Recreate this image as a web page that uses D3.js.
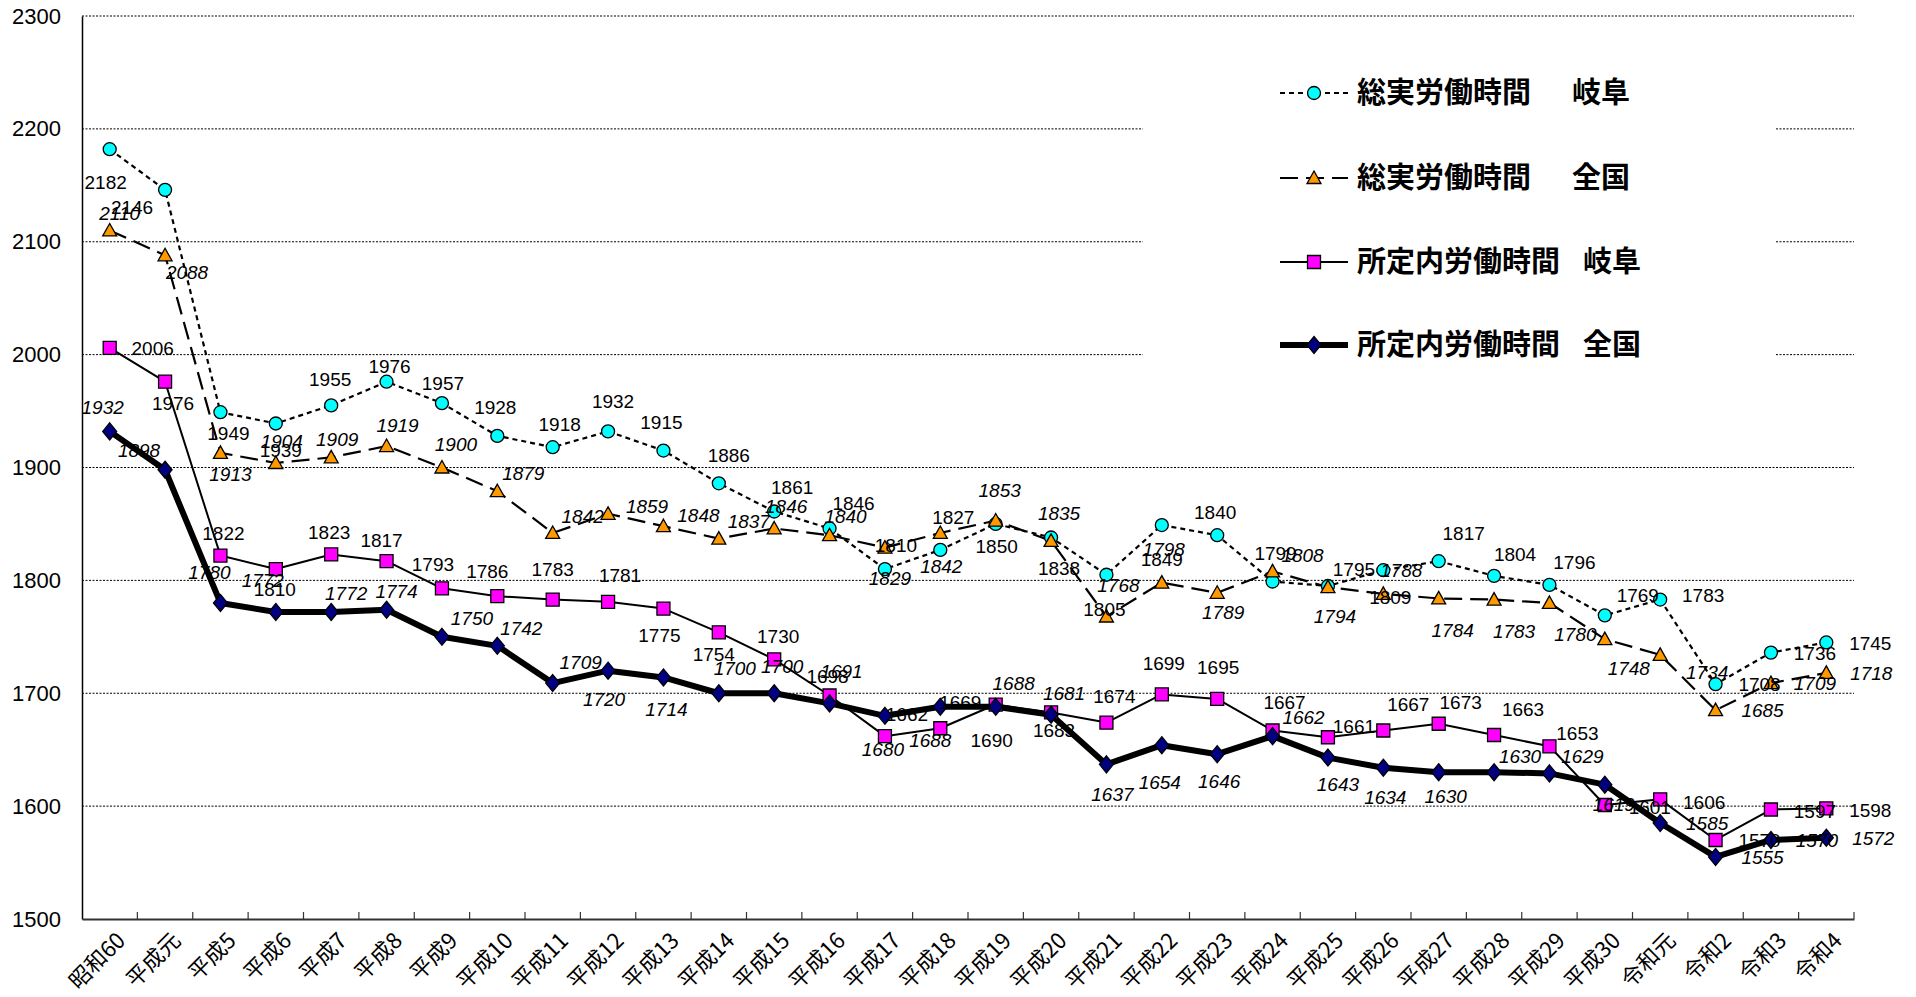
<!DOCTYPE html>
<html>
<head>
<meta charset="utf-8">
<script src="https://cdn.jsdelivr.net/npm/d3@7"></script>
<style>
  body { margin: 0; background: #fff; }
  svg { display: block; }
</style>
</head>
<body>
<svg width="1916" height="997"></svg>
<script>
const categories = ["昭和60", "平成元", "平成5", "平成6", "平成7", "平成8", "平成9", "平成10",
  "平成11", "平成12", "平成13", "平成14", "平成15", "平成16", "平成17", "平成18", "平成19",
  "平成20", "平成21", "平成22", "平成23", "平成24", "平成25", "平成26", "平成27", "平成28",
  "平成29", "平成30", "令和元", "令和2", "令和3", "令和4"]

const gifuTotal = [2182, 2146, 1949, 1939, 1955, 1976, 1957, 1928, 1918, 1932, 1915, 1886,
  1861, 1846, 1810, 1827, 1850, 1838, 1805, 1849, 1840, 1799, 1795, 1809, 1817, 1804, 1796,
  1769, 1783, 1708, 1736, 1745]
const zenkokuTotal = [2110, 2088, 1913, 1904, 1909, 1919, 1900, 1879, 1842, 1859, 1848, 1837,
  1846, 1840, 1829, 1842, 1853, 1835, 1768, 1798, 1789, 1808, 1794, 1788, 1784, 1783, 1780,
  1748, 1734, 1685, 1709, 1718]
const gifuScheduled = [2006, 1976, 1822, 1810, 1823, 1817, 1793, 1786, 1783, 1781, 1775, 1754,
  1730, 1698, 1662, 1669, 1690, 1683, 1674, 1699, 1695, 1667, 1661, 1667, 1673, 1663, 1653,
  1601, 1606, 1570, 1597, 1598]
const zenkokuScheduled = [1932, 1898, 1780, 1772, 1772, 1774, 1750, 1742, 1709, 1720, 1714, 1700,
  1700, 1691, 1680, 1688, 1688, 1681, 1637, 1654, 1646, 1662, 1643, 1634, 1630, 1630, 1629,
  1619, 1585, 1555, 1570, 1572]

const yTicks = [1500, 1600, 1700, 1800, 1900, 2000, 2100, 2200, 2300]

// where each data label sits relative to its marker (px), as in the original sheet
const gifuTotalShift = [[-4,33],[-33,17],[8,21],[5,27],[-1,-26],[3,-16],[1,-20],[-2,-29],[7,-23],[5,-30],
  [-2,-28],[10,-28],[18,-24],[24,-25],[11,-24],[13,-33],[1,22],[8,31],[-2,34],[0,34],[-2,-23],[3,-28],
  [26,-17],[7,27],[25,-28],[21,-22],[25,-23],[33,-20],[43,-4],[44,0],[44,1],[44,1]]
const zenkokuTotalShift = [[10,-17],[22,17],[10,21],[6,-22],[6,-18],[11,-21],[14,-23],[26,-18],[30,-17],
  [39,-8],[35,-11],[30,-17],[12,-22],[16,-19],[5,31],[1,33],[4,-30],[8,-28],[12,-31],[2,-33],[6,19],
  [30,-16],[7,29],[18,-24],[14,32],[20,32],[26,31],[24,29],[47,17],[47,0],[44,0],[45,0]]
const gifuScheduledShift = [[43,0],[8,21],[3,-22],[-1,20],[-2,-22],[-5,-21],[-9,-24],[-10,-25],[0,-30],
  [12,-27],[-4,27],[-5,22],[4,-23],[-2,-19],[22,-22],[20,-26],[-4,36],[3,18],[8,-26],[2,-31],[1,-32],
  [12,-28],[26,-11],[25,-26],[22,-22],[29,-26],[28,-13],[45,2],[44,3],[44,0],[44,2],[44,2]]
const zenkokuScheduledShift = [[-7,-24],[-26,-20],[-11,-31],[-13,-32],[15,-19],[10,-19],[30,-19],[24,-18],
  [28,-21],[-4,28],[3,32],[16,-25],[8,-27],[12,-32],[-2,33],[-10,33],[18,-24],[13,-22],[6,30],[-2,37],
  [2,27],[31,-19],[10,27],[2,29],[7,24],[26,-16],[33,-17],[9,19],[47,0],[47,0],[46,0],[47,0]]

const [LEFT, RIGHT, TOP, BOTTOM] = [82, 1854, 16, 919]
const NUM_FONT = "'Liberation Sans', Arial, sans-serif"
const JP_FONT = "'Noto Sans CJK JP', sans-serif"

const markerPaths = {
  circle: "M6.5,0A6.5,6.5 0 1,1 -6.5,0A6.5,6.5 0 1,1 6.5,0Z",
  triangle: "M0,-7L7,5.5L-7,5.5Z",
  square: "M-6.5,-6.5H6.5V6.5H-6.5Z",
  diamond: "M0,-8.5L7,0L0,8.5L-7,0Z",
}

const series = [
  { name: "総実労働時間", area: "岐阜", areaX: 1572, values: gifuTotal, shift: gifuTotalShift,
    marker: "circle", fill: "#00ffff", width: 2.2, dash: "5,4", italic: false },
  { name: "総実労働時間", area: "全国", areaX: 1572, values: zenkokuTotal, shift: zenkokuTotalShift,
    marker: "triangle", fill: "#ff9900", width: 2.2, dash: "18,8", italic: true },
  { name: "所定内労働時間", area: "岐阜", areaX: 1583, values: gifuScheduled, shift: gifuScheduledShift,
    marker: "square", fill: "#ff00ff", width: 2, dash: null, italic: false },
  { name: "所定内労働時間", area: "全国", areaX: 1583, values: zenkokuScheduled, shift: zenkokuScheduledShift,
    marker: "diamond", fill: "#000080", width: 6, dash: null, italic: true },
]

const svg = d3.select("svg")

const x = d3.scaleBand().domain(categories).range([LEFT, RIGHT])
const y = d3.scaleLinear().domain([1500, 2300]).range([BOTTOM, TOP])
const cx = (c) => x(c) + x.bandwidth() / 2

// grid
svg.append("g")
  .selectAll("line")
  .data(yTicks.filter((t) => t > 1500))
  .enter()
  .append("line")
  .attr("x1", LEFT)
  .attr("x2", RIGHT)
  .attr("y1", (t) => y(t))
  .attr("y2", (t) => y(t))
  .attr("stroke", "#000")
  .attr("stroke-width", 1)
  .attr("stroke-dasharray", "2,1.5")

// legend background hides the grid behind it
svg.append("rect")
  .attr("x", 1143).attr("y", 32)
  .attr("width", 633).attr("height", 380)
  .attr("fill", "#fff")

// y axis
const yAxis = svg.append("g")
  .attr("transform", `translate(${LEFT},0)`)
  .call(d3.axisLeft(y).tickValues(yTicks).tickFormat(d3.format("d")).tickSize(0).tickPadding(21))
yAxis.select(".domain").attr("stroke", "#000").attr("stroke-width", 1.5)
yAxis.selectAll("text")
  .attr("font-family", NUM_FONT)
  .attr("font-size", 22)
  .attr("fill", "#000")

// x axis
const xAxis = svg.append("g")
  .attr("transform", `translate(0,${BOTTOM})`)
  .call(d3.axisBottom(x).tickSize(0).tickFormat(""))
xAxis.select(".domain").attr("stroke", "#333").attr("stroke-width", 2)

svg.append("g")
  .selectAll("line")
  .data(categories.slice(1).map((c) => x(c)).concat([RIGHT]))
  .enter()
  .append("line")
  .attr("x1", (d) => d)
  .attr("x2", (d) => d)
  .attr("y1", BOTTOM)
  .attr("y2", BOTTOM - 7)
  .attr("stroke", "#333")
  .attr("stroke-width", 1.2)

svg.append("g")
  .selectAll("text")
  .data(categories)
  .enter()
  .append("text")
  .attr("transform", (c) => `translate(${cx(c) + 17},${BOTTOM + 23}) rotate(-45)`)
  .attr("text-anchor", "end")
  .attr("font-family", JP_FONT)
  .attr("font-size", 22)
  .attr("fill", "#000")
  .text((c) => c)

// lines and markers
const line = d3.line().x((d) => cx(d.c)).y((d) => y(d.v))

series.forEach((s) => {
  const pts = categories.map((c, i) => ({ c, v: s.values[i] }))
  svg.append("path")
    .datum(pts)
    .attr("d", line)
    .attr("fill", "none")
    .attr("stroke", "#000")
    .attr("stroke-width", s.width)
    .attr("stroke-dasharray", s.dash)
    .attr("stroke-linejoin", "round")
  s.pts = pts
})

series.forEach((s) => {
  svg.append("g")
    .selectAll("path")
    .data(s.pts)
    .enter()
    .append("path")
    .attr("transform", (d) => `translate(${cx(d.c)},${y(d.v)})`)
    .attr("d", markerPaths[s.marker])
    .attr("fill", s.fill)
    .attr("stroke", "#000")
    .attr("stroke-width", 1.3)
})

// data labels
series.forEach((s) => {
  svg.append("g")
    .selectAll("text")
    .data(s.pts)
    .enter()
    .append("text")
    .attr("x", (d, i) => cx(d.c) + s.shift[i][0])
    .attr("y", (d, i) => y(d.v) + s.shift[i][1])
    .attr("dy", "0.36em")
    .attr("text-anchor", "middle")
    .attr("font-family", NUM_FONT)
    .attr("font-size", 19)
    .attr("font-style", s.italic ? "italic" : "normal")
    .attr("fill", "#000")
    .text((d) => d.v)
})

// legend
const legendRows = [93, 178, 262, 345]
series.forEach((s, i) => {
  const g = svg.append("g").attr("transform", `translate(0,${legendRows[i]})`)
  g.append("line")
    .attr("x1", 1280).attr("x2", 1348)
    .attr("stroke", "#000")
    .attr("stroke-width", s.width)
    .attr("stroke-dasharray", s.dash)
  g.append("path")
    .attr("transform", "translate(1314,0)")
    .attr("d", markerPaths[s.marker])
    .attr("fill", s.fill)
    .attr("stroke", "#000")
    .attr("stroke-width", 1.3)
  g.append("text")
    .attr("x", 1357).attr("dy", "0.36em")
    .attr("font-family", JP_FONT)
    .attr("font-weight", "bold")
    .attr("font-size", 29)
    .text(s.name)
  g.append("text")
    .attr("x", s.areaX).attr("dy", "0.36em")
    .attr("font-family", JP_FONT)
    .attr("font-weight", "bold")
    .attr("font-size", 29)
    .text(s.area)
})
</script>
</body>
</html>
